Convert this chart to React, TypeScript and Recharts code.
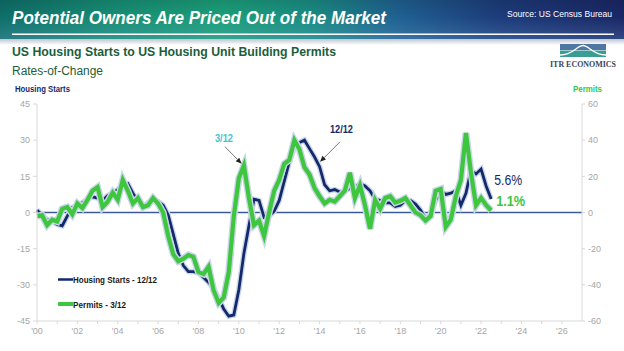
import { Line, LineChart, ReferenceLine, XAxis, YAxis } from 'recharts'

// quarterly rates-of-change, 2000 Q1 .. 2022 Q3
const firstYear = 2000
const starts = [
  1, -1, -3, -3.5,
  -5, -5.5, -1.5, 2,
  3, 4, 5.5, 6.5,
  6, 5, 7, 8,
  9.5, 11.5, 12, 8,
  5, 2, 4, 5,
  4.5, 3, -1, -9,
  -17, -22, -24.5, -24.5,
  -25, -27, -29, -31.5,
  -35.5, -40, -43, -42.5,
  -32, -17, -5.5, 5.5,
  5, -2, -1.5, 0.5,
  5, 13, 21, 27,
  29, 30, 26.5, 23,
  19, 11.5, 9, 9.5,
  8.5, 9, 10, 10.5,
  12, 11, 9, 5.5,
  5, 4, 4, 2.5,
  3, 5, 5, 3.5,
  1, -2.5, -1, 5,
  9, 7.5, 8, 9,
  3, 8, 17.5, 16,
  18, 11, 5.6,
]
const permits = [
  -2, -1.5, -7, -4,
  -5, 2, 3, -1,
  5, 2.5, 7, 12,
  14, 3, 6, 11,
  7, 18, 12, 5,
  8, 3, 4, 8,
  5, 0, -13, -23,
  -27, -25.5, -23.5, -24.5,
  -33, -34, -30, -43,
  -50, -47, -33, -2,
  19, 26, 8, -7,
  -4.5, -13, 0, 12,
  18, 27, 29, 40,
  35, 25, 21, 13.5,
  9, 5, 7, 6,
  9, 12, 22, 8,
  15, 4, -9, 7,
  2, 8, 9, 5.5,
  6.5, 8, 4, 0,
  -1.5, -4.5, -2, 12,
  13, -8, -4, 9,
  18, 44, 22, 4,
  8, 4, 1.1,
]
const startsTicks = [-45, -30, -15, 0, 15, 30, 45]
const permitsTicks = [-60, -40, -20, 0, 20, 40, 60]
const yearTicks = [
  2000, 2001, 2002, 2003, 2004, 2005, 2006, 2007, 2008, 2009, 2010, 2011, 2012, 2013,
  2014, 2015, 2016, 2017, 2018, 2019, 2020, 2021, 2022, 2023, 2024, 2025, 2026,
]
const startsLabel = 'Housing Starts - 12/12'
const permitsLabel = 'Permits - 3/12'
const startsLatest = '5.6%'
const permitsLatest = '1.1%'

const NAVY = '#14296b'
const GREEN = '#3ec63e'
const GLOW = '#c9d6e8'
const AXIS = '#d9d9d9'
const TICK = '#a6a6a6'
const DARK_GREEN = '#1b5e3b'
const FONT = '"Liberation Sans", Arial, sans-serif'

const rows = starts.map((v, i) => ({ t: firstYear + i / 4, starts: v, permits: permits[i] }))
const last = rows.length - 1

const yearLabel = (y: number) => (y % 2 === 0 ? `'${String(y % 100).padStart(2, '0')}` : '')

function endLabel(text: string, color: string, bold: boolean, dx: number, dy: number, len: number) {
  return (p: any) =>
    p.index === last ? (
      <text
        x={Number(p.x) + dx}
        y={Number(p.y) + dy}
        fill={color}
        fontSize={14}
        fontWeight={bold ? 'bold' : 'normal'}
        fontFamily={FONT}
        textLength={len}
        lengthAdjust="spacingAndGlyphs"
      >
        {text}
      </text>
    ) : (
      <g />
    )
}

function arrow(text: string, color: string, dx: number, dy: number, len: number) {
  return (p: any) => {
    const x1 = Number(p.x1)
    const y1 = Number(p.y1)
    const x2 = Number(p.x2)
    const y2 = Number(p.y2)
    const a = Math.atan2(y2 - y1, x2 - x1)
    const c = Math.cos(a)
    const s = Math.sin(a)
    const bx = x2 - 6 * c
    const by = y2 - 6 * s
    return (
      <g>
        <line x1={x1} y1={y1} x2={bx} y2={by} stroke="#555" strokeWidth={0.8} />
        <polygon
          points={`${x2},${y2} ${bx - 2.5 * s},${by + 2.5 * c} ${bx + 2.5 * s},${by - 2.5 * c}`}
          fill="#222"
        />
        <text
          x={x1 + dx}
          y={y1 + dy}
          textAnchor="middle"
          fill={color}
          fontSize={10}
          fontWeight="bold"
          fontFamily={FONT}
          textLength={len}
          lengthAdjust="spacingAndGlyphs"
        >
          {text}
        </text>
      </g>
    )
  }
}

function Header() {
  const t = { fontFamily: FONT, lengthAdjust: 'spacingAndGlyphs' as const }
  return (
    <svg width={624} height={351} style={{ position: 'absolute', left: 0, top: 0, pointerEvents: 'none' }}>
      <text x={12} y={24} fill="#fff" fontSize={18.5} fontWeight="bold" fontStyle="italic" textLength={374} {...t}>
        Potential Owners Are Priced Out of the Market
      </text>
      <text x={507} y={16.5} fill="#fff" fontSize={9} textLength={105} {...t}>
        Source: US Census Bureau
      </text>
      <rect x={12} y={33.5} width={602} height={1.5} fill="#fff" />
      <text x={12} y={56} fill={DARK_GREEN} fontSize={13} fontWeight="bold" textLength={324} {...t}>
        US Housing Starts to US Housing Unit Building Permits
      </text>
      <text x={12} y={74.5} fill={DARK_GREEN} fontSize={12} textLength={91} {...t}>
        Rates-of-Change
      </text>
      <text x={15} y={91.5} fill={NAVY} fontSize={8.5} fontWeight="bold" textLength={55} {...t}>
        Housing Starts
      </text>
      <text x={573} y={91.5} fill="#2ecc40" fontSize={8.5} fontWeight="bold" textLength={29} {...t}>
        Permits
      </text>
      {/* logo */}
      <rect x={560} y={44} width={46} height={6} fill="#4f77a3" />
      <rect x={560} y={50.5} width={46} height={6.5} fill="#3a9c93" />
      <path d="M560,55 C573,55 577,45.5 583,45.5 C589,45.5 593,55 606,55" stroke="#fff" strokeWidth={1.3} fill="none" />
      <text
        x={550}
        y={66.5}
        fill="#3a4656"
        fontSize={8}
        fontWeight="bold"
        fontFamily='"Liberation Serif", "DejaVu Serif", serif'
        textLength={66}
        lengthAdjust="spacingAndGlyphs"
      >
        ITR ECONOMICS
      </text>
      {/* legend */}
      <line x1={58} y1={279.5} x2={73} y2={279.5} stroke={NAVY} strokeWidth={2.5} />
      <text x={73} y={283} fill="#1a1a1a" fontSize={9} fontWeight="bold" textLength={84} {...t}>
        {startsLabel}
      </text>
      <line x1={58} y1={304} x2={73} y2={304} stroke={GREEN} strokeWidth={4} />
      <text x={73} y={307.5} fill="#1a1a1a" fontSize={9} fontWeight="bold" textLength={53} {...t}>
        {permitsLabel}
      </text>
    </svg>
  )
}

export default function App() {
  const tick = { fill: TICK, fontSize: 9, fontFamily: FONT }
  return (
    <div
      style={{
        position: 'fixed',
        left: 0,
        top: 0,
        width: 624,
        height: 351,
        background: '#fff',
        overflow: 'hidden',
      }}
    >
      <div
        style={{
          position: 'absolute',
          left: 0,
          top: 0,
          width: 624,
          height: 39,
          background:
            'linear-gradient(90deg, #0f6f6a 0%, #178f76 18%, #1ca07a 36%, #1a8d84 50%, #1f6192 64%, #1d3c7c 80%, #1a2766 100%)',
        }}
      />
      <div
        style={{
          position: 'absolute',
          left: 0,
          top: 0,
          width: 624,
          height: 39,
          background: 'linear-gradient(180deg, rgba(0,0,0,0.12) 0%, rgba(0,0,0,0) 45%, rgba(120,170,210,0.25) 100%)',
        }}
      />
      <div
        style={{
          position: 'absolute',
          left: 0,
          top: 39,
          width: 624,
          height: 6,
          background: 'linear-gradient(180deg, rgba(110,130,150,0.45), rgba(255,255,255,0))',
        }}
      />
      <div style={{ position: 'absolute', left: 0, top: 0 }}>
        <LineChart width={624} height={351} data={rows} margin={{ top: 104, right: 6, bottom: 10, left: 7 }}>
          <XAxis
            type="number"
            dataKey="t"
            domain={[2000, 2027]}
            ticks={yearTicks}
            interval={0}
            tickFormatter={yearLabel}
            height={20}
            tickSize={3}
            tickMargin={4}
            axisLine={{ stroke: AXIS }}
            tickLine={{ stroke: AXIS }}
            tick={tick}
          />
          <YAxis
            yAxisId="left"
            domain={[-45, 45]}
            ticks={startsTicks}
            width={30}
            tickSize={4}
            tickMargin={3}
            axisLine={{ stroke: AXIS }}
            tickLine={{ stroke: AXIS }}
            tick={tick}
          />
          <YAxis
            yAxisId="right"
            orientation="right"
            domain={[-60, 60]}
            ticks={permitsTicks}
            width={36}
            tickSize={3}
            tickMargin={3}
            axisLine={{ stroke: AXIS }}
            tickLine={{ stroke: AXIS }}
            tick={tick}
          />
          <ReferenceLine yAxisId="left" y={0} stroke="#3b5b95" strokeWidth={1.3} />
          <Line yAxisId="left" dataKey="starts" stroke={GLOW} strokeWidth={5.5} dot={false} isAnimationActive={false} />
          <Line
            yAxisId="left"
            dataKey="starts"
            stroke={NAVY}
            strokeWidth={2.8}
            dot={false}
            isAnimationActive={false}
            label={endLabel(startsLatest, NAVY, false, 3, -13.5, 28)}
          />
          <Line yAxisId="right" dataKey="permits" stroke={GLOW} strokeWidth={7} dot={false} isAnimationActive={false} />
          <Line
            yAxisId="right"
            dataKey="permits"
            stroke={GREEN}
            strokeWidth={4.2}
            dot={false}
            isAnimationActive={false}
            label={endLabel(permitsLatest, GREEN, true, 5, -5, 29)}
          />
          <ReferenceLine
            yAxisId="right"
            segment={[
              { x: 2009.31, y: 36.4 },
              { x: 2010.14, y: 27 },
            ]}
            shape={arrow('3/12', '#3cc6d0', -1, -5, 18)}
          />
          <ReferenceLine
            yAxisId="left"
            segment={[
              { x: 2015.01, y: 29.3 },
              { x: 2014.02, y: 21 },
            ]}
            shape={arrow('12/12', NAVY, 1.5, -8.5, 23)}
          />
        </LineChart>
      </div>
      <Header />
    </div>
  )
}
